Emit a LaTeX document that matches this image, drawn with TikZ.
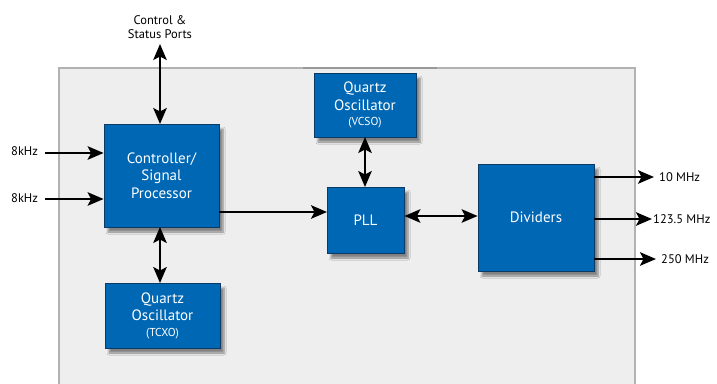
\documentclass[tikz,border=0pt]{standalone}
\usepackage{fontspec}
\setmainfont{PT Sans}
\usetikzlibrary{arrows.meta,shadows.blur}
\definecolor{boxblue}{HTML}{0067B4}
\definecolor{boxedge}{HTML}{0B3A66}
\definecolor{panel}{HTML}{EEEEEE}
\definecolor{panedge}{HTML}{B2B2B2}
\begin{document}
\begin{tikzpicture}[x=1pt,y=-1pt,
  blk/.style={draw=boxedge,line width=0.8pt,fill=boxblue,text=white,align=center,
    font=\fontsize{15}{17.5}\selectfont,inner sep=0pt,
    blur shadow={shadow xshift=4pt,shadow yshift=-5pt,shadow blur steps=6,shadow opacity=45}},
  lbl/.style={font=\fontsize{12.5}{14.5}\selectfont,inner sep=0pt},
  tip/.tip={Stealth[length=16pt,width=13.5pt,inset=3.5pt]},
  con/.style={line width=1.9pt,-tip},
  bicon/.style={line width=1.9pt,tip-tip}]
\useasboundingbox (0,0) rectangle (717,383);
% panel
\fill[panel] (59,68) rectangle (635,390);
\draw[panedge,line width=2.2pt] (59,390) -- (59,68) -- (635,68) -- (635,390);
\draw[gray!80,line width=2.2pt] (303,68) -- (437,68);
% blocks
\node[blk,minimum width=115pt,minimum height=103pt] (ctl) at (161.5,175.5) {Controller/\\Signal\\Processor};
\node[blk,minimum width=115pt,minimum height=65pt] (tcxo) at (162.5,315.5) {Quartz\\Oscillator\\[-2pt]{\fontsize{11.5}{13}\selectfont (TCXO)}};
\node[blk,minimum width=102pt,minimum height=64pt] (vcso) at (365,105) {Quartz\\Oscillator\\[-2pt]{\fontsize{11.5}{13}\selectfont (VCSO)}};
\node[blk,minimum width=77pt,minimum height=66pt] (pll) at (365.5,220) {PLL};
\node[blk,minimum width=116pt,minimum height=107pt] (div) at (536,217.5) {Dividers};
% labels
\node[lbl,align=center] (csp) at (160,27) {Control \&\\Status Ports};
\node[lbl,anchor=west] (k1) at (11,151) {8kHz};
\node[lbl,anchor=west] (k2) at (11,198) {8kHz};
\node[lbl,anchor=west] (o1) at (659,177) {10 MHz};
\node[lbl,anchor=west] (o2) at (653,219) {123.5 MHz};
\node[lbl,anchor=west] (o3) at (661,259) {250 MHz};
\coordinate (cspb) at (160,44);
\coordinate (k1e) at (45,153);
\coordinate (k2e) at (45,199);
% connectors
\draw[bicon] (cspb) -- (160,124);
\draw[con] (k1e) -- (k1e -| ctl.west);
\draw[con] (k2e) -- (k2e -| ctl.west);
\draw[bicon] (160,227) -- (160,283);
\draw[con] (219,212) -- (327,212);
\draw[bicon] (365,137) -- (365,187);
\draw[bicon] (pll.east |- 0,216) -- (div.west |- 0,216);
\draw[con] (594,177) -- (654,177);
\draw[con] (594,219) -- (652,219);
\draw[con] (594,259) -- (656,259);
\end{tikzpicture}
\end{document}
